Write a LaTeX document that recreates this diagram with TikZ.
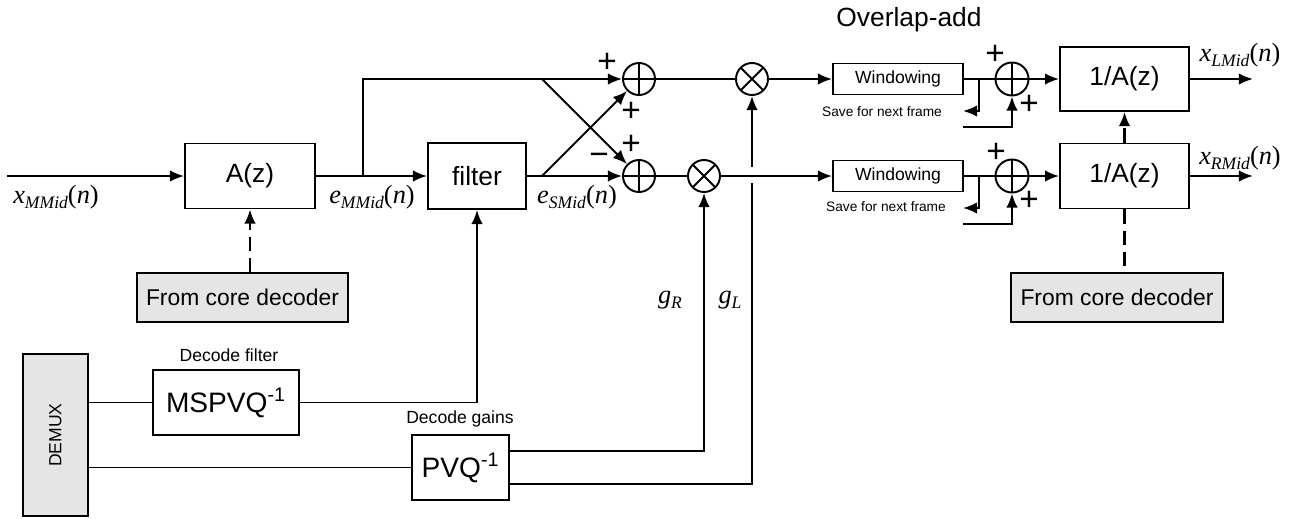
\documentclass[tikz,border=0pt]{standalone}
\usepackage{fontspec}
\setmainfont{Liberation Sans}
\newfontfamily\serfont{Liberation Serif}
\usetikzlibrary{arrows.meta,calc}
\tikzset{
	blk/.style={draw, line width=1.1pt, inner sep=0pt, font=\fontsize{15}{18}\selectfont},
	grayblk/.style={blk, fill=black!10, font=\fontsize{13}{16}\selectfont},
	sumnode/.style={draw, circle, line width=1.1pt, minimum size=0.64cm, inner sep=0pt,
			path picture={\draw[line width=1.1pt] (path picture bounding box.north) -- (path picture bounding box.south)
					(path picture bounding box.west) -- (path picture bounding box.east);}},
	mulnode/.style={draw, circle, line width=1.1pt, minimum size=0.64cm, inner sep=0pt,
			path picture={\draw[line width=1.1pt] (path picture bounding box.north west) -- (path picture bounding box.south east)
					(path picture bounding box.north east) -- (path picture bounding box.south west);}},
	sign/.style={font=\fontsize{19}{22}\selectfont, inner sep=0pt},
	note/.style={font=\fontsize{10}{12}\selectfont, inner sep=0pt},
	sig/.style={font=\serfont\fontsize{15}{18}\selectfont, inner sep=0pt},
	wire/.style={line width=1.1pt},
	dashwire/.style={line width=1.3pt, dash pattern=on 8pt off 4pt}
}
\newcommand{\sigl}[2]{\textit{#1}\raisebox{-3pt}{\fontsize{10}{12}\selectfont\textit{#2}}(\textit{n})}

\begin{document}
\begin{tikzpicture}[x=0.02cm, y=-0.02cm, >={Latex[length=8pt,width=6.5pt]}]
        \useasboundingbox (0,0) rectangle (1292,518);
        % main blocks
        \node[blk, minimum width=2.6cm, minimum height=1.3cm] (az) at (250,176) {A(z)};
        \node[blk, minimum width=1.96cm, minimum height=1.32cm] (filt) at (477,176) {filter};
        \node[sumnode] (sum1) at (639,79) {};
        \node[sumnode] (sum2) at (639,176) {};
        \node[mulnode] (mul1) at (752,79) {};
        \node[mulnode] (mul2) at (704,176) {};
        \node[blk, font=\fontsize{10}{12}\selectfont, minimum width=2.6cm, minimum height=0.62cm] (win1) at (898,79) {Windowing};
        \node[blk, font=\fontsize{10}{12}\selectfont, minimum width=2.6cm, minimum height=0.62cm] (win2) at (898,176) {Windowing};
        \node[sumnode, minimum size=0.66cm] (sum3) at (1012,79) {};
        \node[sumnode, minimum size=0.66cm] (sum4) at (1012,176) {};
        \node[blk, minimum width=2.58cm, minimum height=1.28cm] (inv1) at (1124.5,79) {1/A(z)};
        \node[blk, minimum width=2.58cm, minimum height=1.3cm] (inv2) at (1124.5,176) {1/A(z)};
        \node[grayblk, minimum width=4.22cm, minimum height=0.98cm] (core1) at (242.5,297.5) {From core decoder};
        \node[grayblk, minimum width=4.24cm, minimum height=0.98cm] (core2) at (1117,297.5) {From core decoder};
        \node[grayblk, minimum width=1.3cm, minimum height=3.24cm] (demux) at (55.5,435) {};
        \node[note, rotate=90] (demuxtxt) at (demux.center) {DEMUX};
        \node[blk, font=\fontsize{16}{19}\selectfont, minimum width=2.92cm, minimum height=1.3cm] (mspvq) at (226,402.5) {MSPVQ\textsuperscript{-1}};
        \node[blk, font=\fontsize{16}{19}\selectfont, minimum width=1.94cm, minimum height=1.3cm] (pvq) at (460.5,467.5) {PVQ\textsuperscript{-1}};
        % texts
        \node[font=\fontsize{15}{18}\selectfont, inner sep=0pt] (ola) at (909,20) {Overlap-add};
        \node[note] (decf) at (229,355) {Decode filter};
        \node[note] (decg) at (460,419) {Decode gains};
        \node[note, font=\fontsize{7.8}{9}\selectfont] (save1) at (882,112) {Save for next frame};
        \node[note, font=\fontsize{7.8}{9}\selectfont] (save2) at (886,207) {Save for next frame};
        \node[sig] (xin) at (56,197) {\sigl{x}{MMid}};
        \node[sig] (emm) at (372,197) {\sigl{e}{MMid}};
        \node[sig] (esm) at (577,197) {\sigl{e}{SMid}};
        \node[sig] (xl) at (1240,55) {\sigl{x}{LMid}};
        \node[sig] (xr) at (1240,158) {\sigl{x}{RMid}};
        \node[sig] (gr) at (670,300) {\textit{g}\raisebox{-3pt}{\fontsize{10}{12}\selectfont\textit{R}}};
        \node[sig] (gl) at (730,300) {\textit{g}\raisebox{-3pt}{\fontsize{10}{12}\selectfont\textit{L}}};
        \node[sign] (p1) at (607,63) {+};
        \node[sign] (p2) at (631,112) {+};
        \node[sign] (p3) at (631,145) {+};
        \node[sign] (m1) at (599,159) {−};
        \node[sign] (p4) at (995,55) {+};
        \node[sign] (p5) at (1029,105) {+};
        \node[sign] (p6) at (996,153) {+};
        \node[sign] (p7) at (1029,201) {+};
        % helper points
        \coordinate (in) at (7,176);
        \coordinate (br1) at (363,176);
        \coordinate (br2) at (542,79);
        \coordinate (br3) at (542,176);
        \coordinate (hopB) at (752,183);
        \coordinate (hopT) at (752,167);
        \coordinate (sv1) at (979,79);
        \coordinate (sv1e) at (963,111);
        \coordinate (fb1) at (963,127);
        \coordinate (sv2) at (979,176);
        \coordinate (sv2e) at (963,208);
        \coordinate (fb2) at (963,224);
        \coordinate (outL) at (1253,79);
        \coordinate (outR) at (1253,176);
        \coordinate (pvqR) at ($(pvq.north east)!0.25!(pvq.south east)$);
        \coordinate (pvqL) at ($(pvq.north east)!0.74!(pvq.south east)$);
        % connections
        \draw[wire,->] (in) -- (az.west);
        \draw[wire,->] (az.east) -- (filt.west);
        \draw[wire,->] (br1) |- (sum1.west);
        \draw[wire,->] (filt.east) -- (sum2.west);
        \draw[wire,->] (br3) -- (sum1.225);
        \draw[wire,->] (br2) -- (sum2.135);
        \draw[wire] (sum1.east) -- (mul1.west);
        \draw[wire] (sum2.east) -- (mul2.west);
        \draw[wire,->] (mul1.east) -- (win1.west);
        \draw[wire,->] (mul2.east) -- (win2.west);
        \draw[wire] (win1.east) -- (sum3.west);
        \draw[wire] (win2.east) -- (sum4.west);
        \draw[wire,->] (sv1) |- (sv1e);
        \draw[wire,->] (sv2) |- (sv2e);
        \draw[wire,->] (fb1) -| (sum3.south);
        \draw[wire,->] (fb2) -| (sum4.south);
        \draw[wire,->] (sum3.east) -- (inv1.west);
        \draw[wire,->] (sum4.east) -- (inv2.west);
        \draw[wire,->] (inv1.east) -- (outL);
        \draw[wire,->] (inv2.east) -- (outR);
        \draw[dashwire,->] (inv2.north) -- (inv1.south);
        \draw[dashwire] (inv2.south) -- (inv2.south |- core2.north);
        \draw[dashwire,->] (az.south |- core1.north) -- (az.south);
        \draw[wire] (mspvq.west) -- (mspvq.west -| demux.east);
        \draw[wire] (pvq.west) -- (pvq.west -| demux.east);
        \draw[wire,->] (mspvq.east) -| (filt.south);
        \draw[wire,->] (pvqR) -| (mul2.south);
        \draw[wire] (pvqL) -| (hopB);
        \draw[wire,->] (hopT) -- (mul1.south);
    \end{tikzpicture}
\end{document}
